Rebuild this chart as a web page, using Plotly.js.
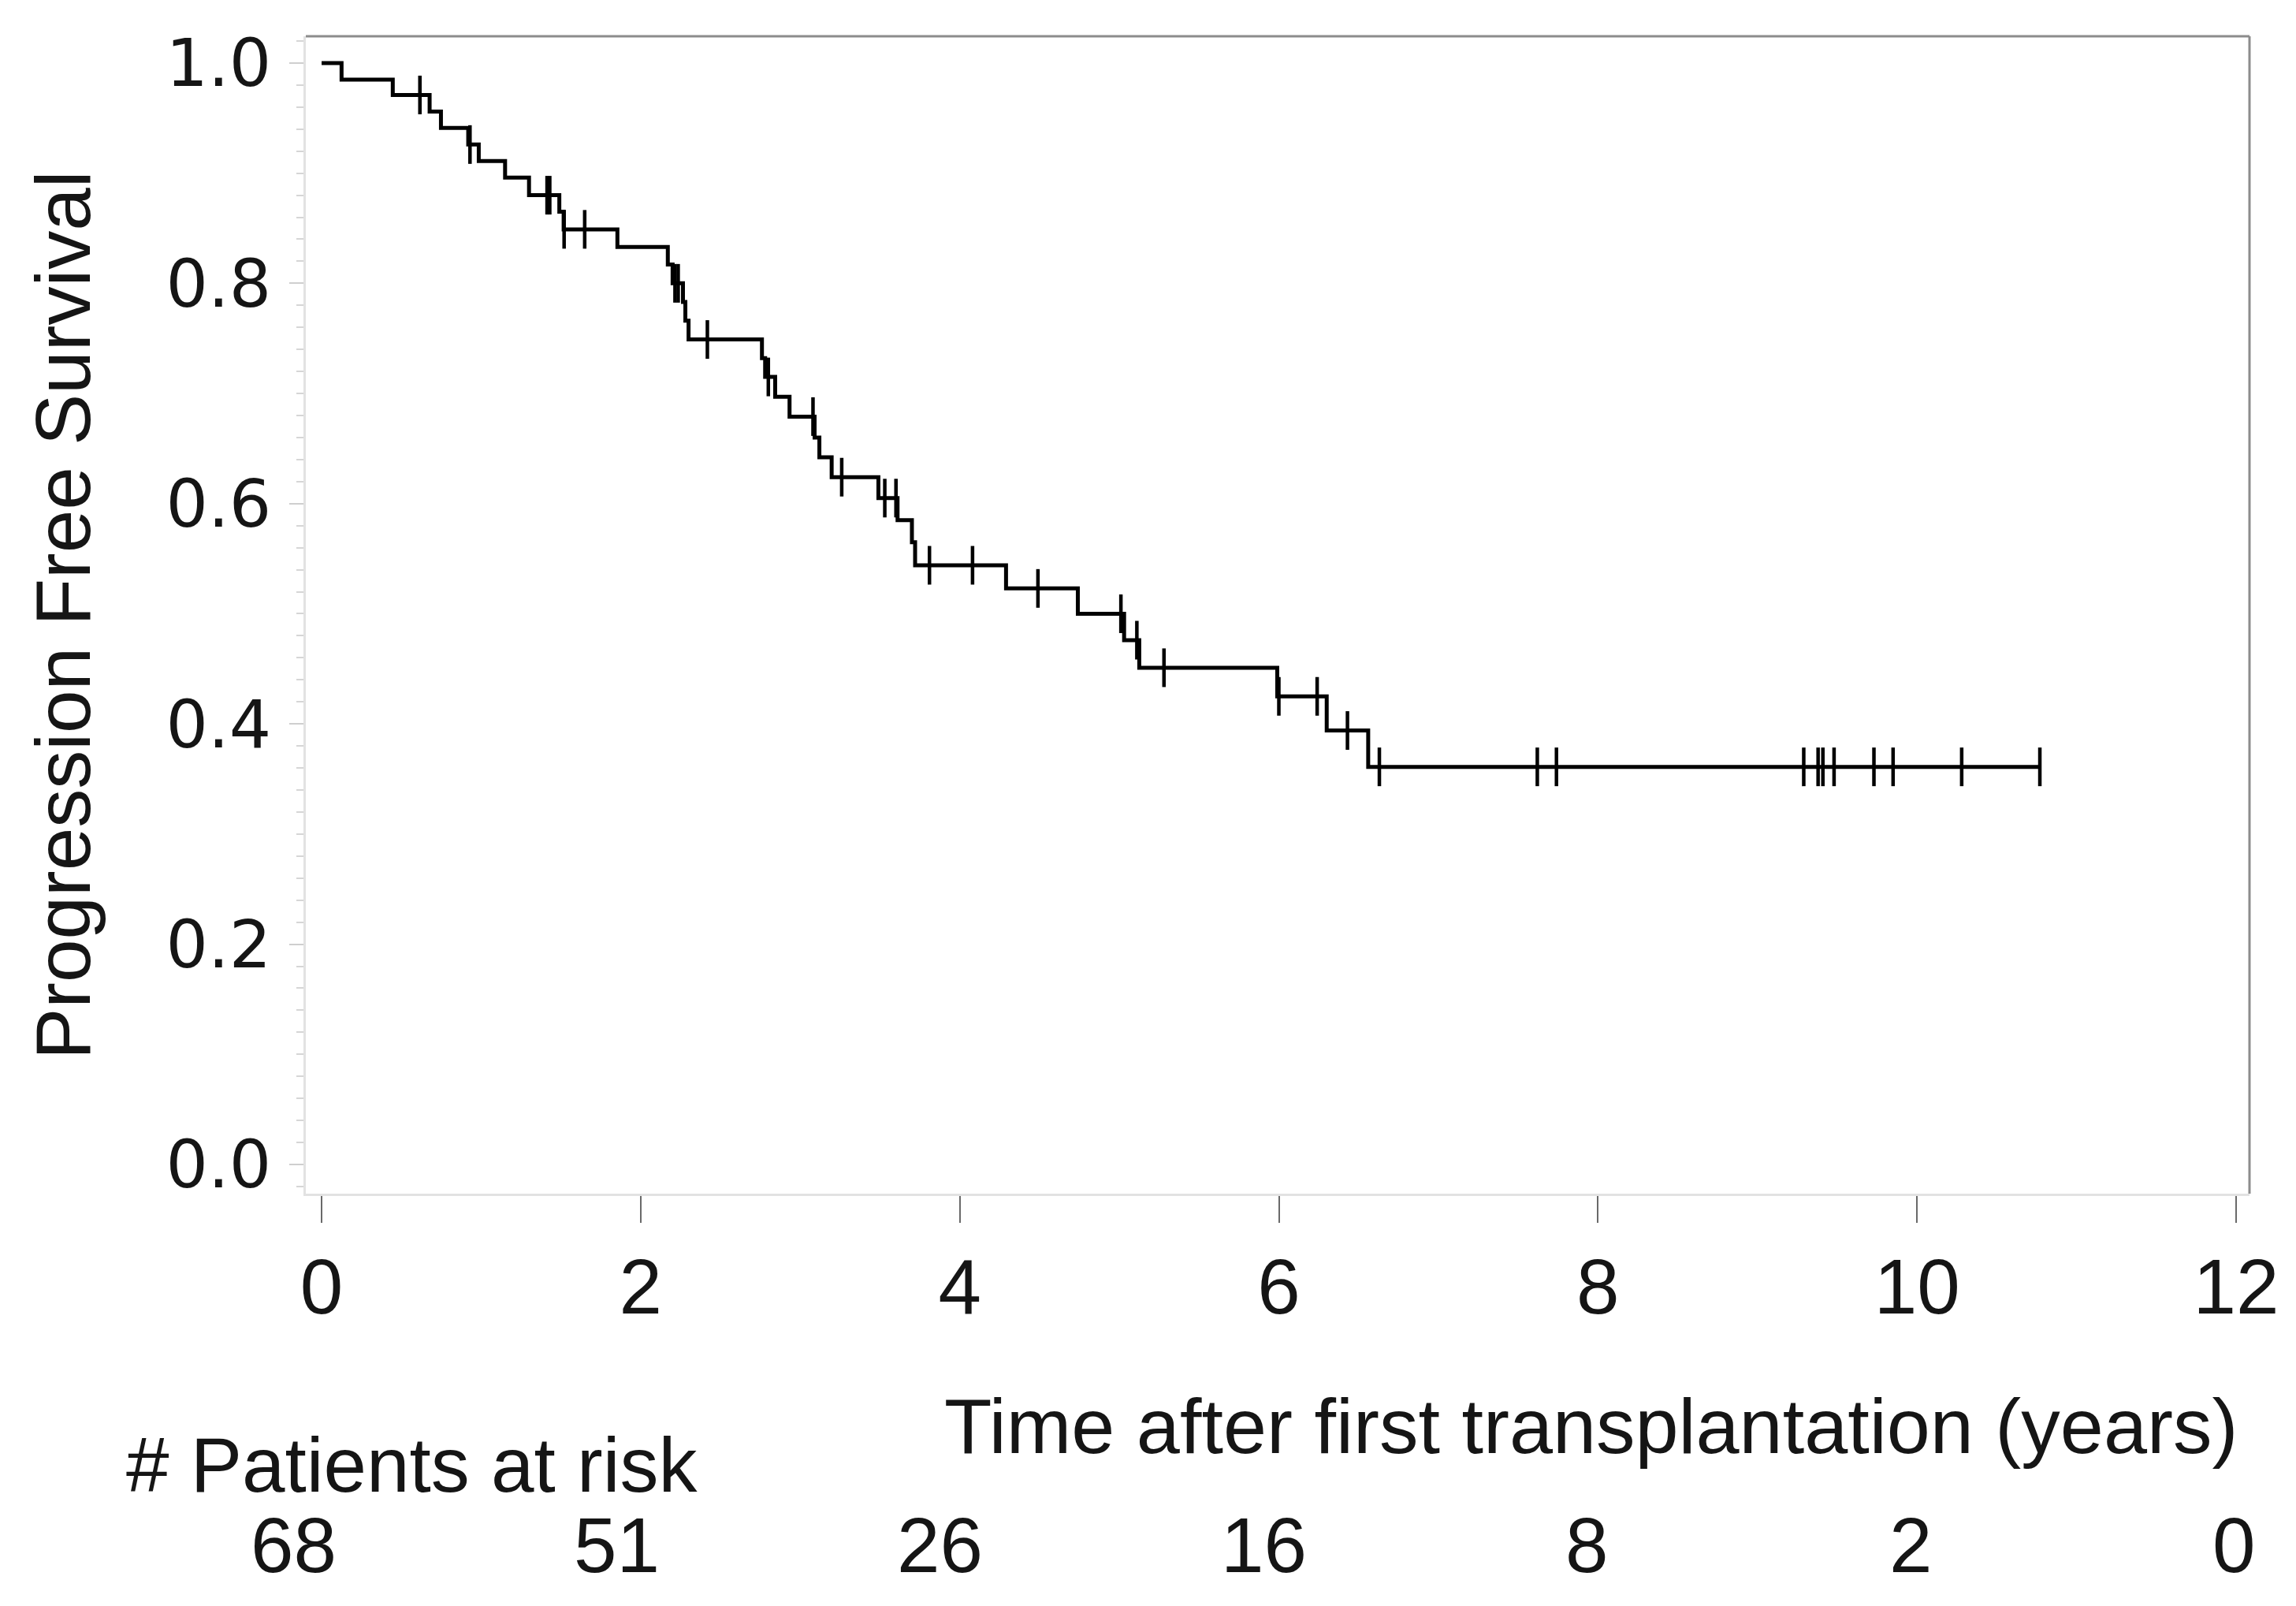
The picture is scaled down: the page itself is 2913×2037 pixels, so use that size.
<!DOCTYPE html>
<html>
<head>
<meta charset="utf-8">
<script src="https://cdn.plot.ly/plotly-3.0.1.min.js"></script>
<style>
  html, body { margin: 0; padding: 0; background: #ffffff; }
  #chart { width: 2913px; height: 2037px; }
</style>
</head>
<body>
<div id="chart"></div>
<script>
// ---- Data ----
// Kaplan-Meier step curve: time (years) where the level changes, and the level from there on
var stepTimes = [0, 0.125, 0.446, 0.677, 0.748, 0.919, 0.985, 1.15, 1.30, 1.49, 1.517, 1.854,
                 2.17, 2.20, 2.265, 2.28, 2.30, 2.76, 2.78, 2.843, 2.933, 3.09, 3.12, 3.197,
                 3.49, 3.61, 3.70, 3.72, 4.29, 4.74, 5.03, 5.125, 5.99, 6.30, 6.56, 10.77];
var survival  = [1.000, 0.985, 0.971, 0.956, 0.941, 0.926, 0.911, 0.896, 0.880, 0.865, 0.849, 0.833,
                 0.817, 0.800, 0.783, 0.766, 0.749, 0.732, 0.715, 0.697, 0.679, 0.660, 0.642, 0.624,
                 0.605, 0.585, 0.565, 0.544, 0.523, 0.500, 0.476, 0.451, 0.425, 0.394, 0.361, 0.361];

// Censored observations (tick marks)
var censorTimes  = [0.616, 0.93, 1.413, 1.43, 1.52, 1.649, 2.215, 2.235, 2.418, 2.80, 3.08, 3.26,
                    3.53, 3.60, 3.81, 4.08, 4.49, 5.01, 5.11, 5.28, 6.00, 6.24, 6.43, 6.63,
                    7.62, 7.74, 9.29, 9.38, 9.41, 9.48, 9.73, 9.85, 10.28, 10.77];
var censorValues = [0.971, 0.926, 0.880, 0.880, 0.849, 0.849, 0.800, 0.800, 0.749, 0.715, 0.679, 0.624,
                    0.605, 0.605, 0.544, 0.544, 0.523, 0.500, 0.476, 0.451, 0.425, 0.425, 0.394, 0.361,
                    0.361, 0.361, 0.361, 0.361, 0.361, 0.361, 0.361, 0.361, 0.361, 0.361];

// Number at risk table
var riskTimes  = [0, 2, 4, 6, 8, 10, 12];
var riskCounts = [68, 51, 26, 16, 8, 2, 0];

// Axis ticks
var xTickVals = [0, 2, 4, 6, 8, 10, 12];
var yTickVals = [0.0, 0.2, 0.4, 0.6, 0.8, 1.0];
var yTickText = ['0.0', '0.2', '0.4', '0.6', '0.8', '1.0'];

var xTitleText = 'Time after first transplantation (years)';
var yTitleText = 'Progression Free Survival';
var riskLabel  = '# Patients at risk';

// ---- Styling ----
var sansFont = 'Liberation Sans, Arial, Helvetica, sans-serif';
var tickFontY = 'DejaVu Sans, Verdana, sans-serif';
var textColor = '#151515';

var traces = [
  {
    type: 'scatter',
    mode: 'lines',
    x: stepTimes,
    y: survival,
    line: { shape: 'hv', color: '#000000', width: 5 },
    hoverinfo: 'skip',
    showlegend: false
  },
  {
    type: 'scatter',
    mode: 'markers',
    x: censorTimes,
    y: censorValues,
    marker: { symbol: 'line-ns-open', size: 35, color: '#000000',
              line: { color: '#000000', width: 4.5 } },
    hoverinfo: 'skip',
    showlegend: false
  }
];

var annotations = [
  {
    text: yTitleText, xref: 'paper', yref: 'paper', x: -0.1249, y: 0.5,
    xanchor: 'center', yanchor: 'middle', textangle: -90, showarrow: false,
    font: { family: sansFont, size: 98, color: textColor }
  },
  {
    text: xTitleText, xref: 'x', yref: 'paper', x: 12, y: -0.2003,
    xanchor: 'right', yanchor: 'middle', showarrow: false, xshift: 4,
    font: { family: sansFont, size: 99, color: textColor }
  },
  {
    text: riskLabel, xref: 'paper', yref: 'paper', x: -0.0933, y: -0.2343,
    xanchor: 'left', yanchor: 'middle', showarrow: false,
    font: { family: sansFont, size: 98, color: textColor }
  }
];
riskTimes.forEach(function (t, i) {
  annotations.push({
    text: String(riskCounts[i]), xref: 'x', yref: 'paper', x: t, y: -0.3038,
    xanchor: 'center', yanchor: 'middle', showarrow: false,
    xshift: -36 + 2.8 * t,
    font: { family: sansFont, size: 98, color: textColor }
  });
});

var layout = {
  width: 2913,
  height: 2037,
  margin: { l: 388, r: 59, t: 46, b: 523, pad: 0 },
  paper_bgcolor: '#ffffff',
  plot_bgcolor: '#ffffff',
  showlegend: false,
  xaxis: {
    range: [-0.099, 12.084],
    tickmode: 'array',
    tickvals: xTickVals,
    ticks: 'outside',
    ticklen: 34,
    tickwidth: 2,
    tickcolor: '#6a6a6a',
    showline: true,
    linecolor: '#e2e2e2',
    linewidth: 3,
    showgrid: false,
    zeroline: false,
    ticklabelstandoff: -3,
    tickfont: { family: sansFont, size: 98, color: textColor }
  },
  yaxis: {
    range: [-0.0265, 1.0243],
    tickmode: 'array',
    tickvals: yTickVals,
    ticktext: yTickText,
    ticks: 'outside',
    ticklen: 18,
    tickwidth: 2,
    tickcolor: '#cfcfcf',
    minor: { dtick: 0.02, tick0: 0, ticks: 'outside', ticklen: 9, tickwidth: 2,
             tickcolor: '#d6d6d6', showgrid: false },
    showline: true,
    linecolor: '#e2e2e2',
    linewidth: 3,
    showgrid: false,
    zeroline: false,
    ticklabelstandoff: 6,
    tickfont: { family: tickFontY, size: 84, color: textColor }
  },
  shapes: [
    { type: 'line', xref: 'paper', yref: 'paper', x0: 0, x1: 1, y0: 1, y1: 1,
      line: { color: '#8c8c8c', width: 3 } },
    { type: 'line', xref: 'paper', yref: 'paper', x0: 1, x1: 1, y0: 0, y1: 1,
      line: { color: '#8c8c8c', width: 3 } }
  ],
  annotations: annotations
};

Plotly.newPlot('chart', traces, layout, { staticPlot: true, displayModeBar: false });
</script>
</body>
</html>
